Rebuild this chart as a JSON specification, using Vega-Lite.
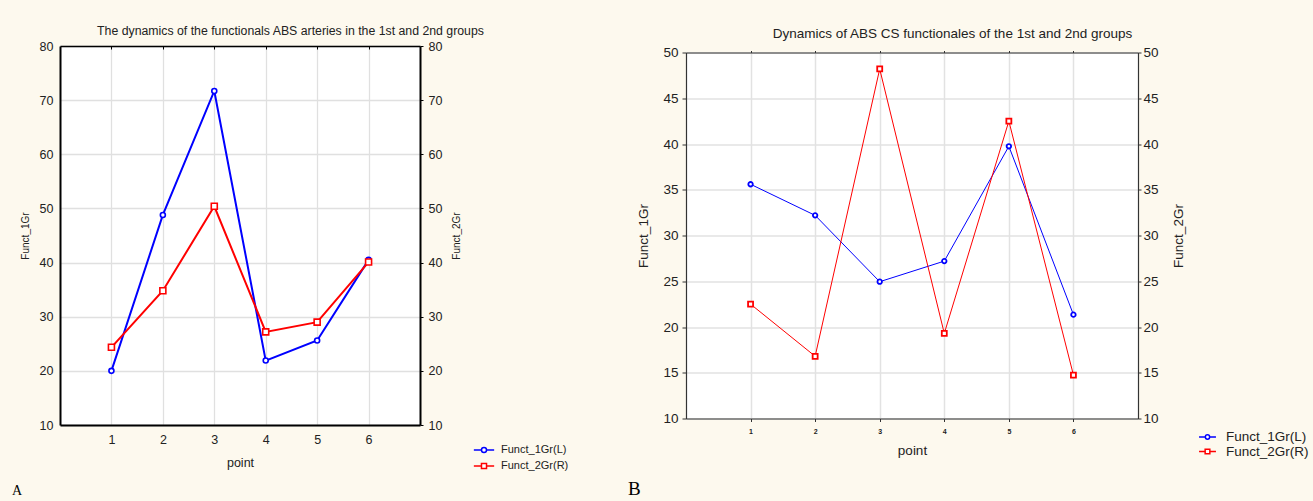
{
  "$schema": "https://vega.github.io/schema/vega-lite/v6.json",
  "background": "#FDF9EE",
  "padding": {"left": 12, "top": 24, "right": 8, "bottom": 4},
  "bounds": "flush",
  "spacing": 266,
  "center": true,
  "datasets": {
    "arteries": [
      {"point": 1, "series": "Funct_1Gr(L)", "value": 20.0},
      {"point": 2, "series": "Funct_1Gr(L)", "value": 48.8},
      {"point": 3, "series": "Funct_1Gr(L)", "value": 71.7},
      {"point": 4, "series": "Funct_1Gr(L)", "value": 21.9},
      {"point": 5, "series": "Funct_1Gr(L)", "value": 25.6},
      {"point": 6, "series": "Funct_1Gr(L)", "value": 40.5},
      {"point": 1, "series": "Funct_2Gr(R)", "value": 24.35},
      {"point": 2, "series": "Funct_2Gr(R)", "value": 34.8},
      {"point": 3, "series": "Funct_2Gr(R)", "value": 50.4},
      {"point": 4, "series": "Funct_2Gr(R)", "value": 27.2},
      {"point": 5, "series": "Funct_2Gr(R)", "value": 29.0},
      {"point": 6, "series": "Funct_2Gr(R)", "value": 40.1}
    ],
    "cs": [
      {"point": 1, "series": "Funct_1Gr(L)", "value": 35.6},
      {"point": 2, "series": "Funct_1Gr(L)", "value": 32.2},
      {"point": 3, "series": "Funct_1Gr(L)", "value": 24.95},
      {"point": 4, "series": "Funct_1Gr(L)", "value": 27.2},
      {"point": 5, "series": "Funct_1Gr(L)", "value": 39.75},
      {"point": 6, "series": "Funct_1Gr(L)", "value": 21.35},
      {"point": 1, "series": "Funct_2Gr(R)", "value": 22.5},
      {"point": 2, "series": "Funct_2Gr(R)", "value": 16.8},
      {"point": 3, "series": "Funct_2Gr(R)", "value": 48.2},
      {"point": 4, "series": "Funct_2Gr(R)", "value": 19.3},
      {"point": 5, "series": "Funct_2Gr(R)", "value": 42.5},
      {"point": 6, "series": "Funct_2Gr(R)", "value": 14.75}
    ]
  },
  "hconcat": [
    {
      "width": 360,
      "height": 379,
      "data": {"name": "arteries"},
      "title": {"text": "A", "orient": "bottom", "anchor": "start", "frame": "group", "dx": -48, "offset": 23, "baseline": "alphabetic", "font": "Liberation Serif", "fontSize": 14, "fontWeight": "normal", "color": "#000000"},
      "view": {"fill": "white", "stroke": null},
      "layer": [
        {
          "transform": [{"filter": "datum.series === 'Funct_1Gr(L)'"}],
          "mark": {"type": "line", "strokeWidth": 2, "point": {"filled": false, "fill": "white", "shape": "circle", "size": 25, "strokeWidth": 1.6}},
          "encoding": {
            "x": {"field": "point", "type": "quantitative", "scale": {"domain": [0, 7], "nice": false, "zero": false},
              "axis": {"orient": "bottom", "values": [1, 2, 3, 4, 5, 6], "format": "d", "title": "point", "grid": true, "gridColor": "#E0E0E0", "gridWidth": 1.3, "domainColor": "#000000", "domainWidth": 2, "ticks": false, "labelFontSize": 12.5, "labelPadding": 8, "titleFontSize": 12.5, "titlePadding": 11}},
            "y": {"field": "value", "type": "quantitative", "scale": {"domain": [10, 80], "nice": false, "zero": false},
              "axis": {"orient": "left", "values": [10, 20, 30, 40, 50, 60, 70, 80], "title": "Funct_1Gr", "grid": true, "gridColor": "#E0E0E0", "gridWidth": 1.3, "domainColor": "#000000", "domainWidth": 2, "ticks": false, "labelFontSize": 12.5, "labelPadding": 7, "titleFontSize": 10, "titlePadding": 9}},
            "color": {"field": "series", "type": "nominal", "scale": {"domain": ["Funct_1Gr(L)", "Funct_2Gr(R)"], "range": ["#0000FF", "#FF0000"]},
              "legend": {"title": null, "orient": "none", "legendX": 416, "legendY": 396, "padding": 0, "symbolSize": 196, "rowPadding": 2, "labelOffset": 9, "labelFontSize": 11, "labelColor": "#222222", "symbolStrokeWidth": 1.5,
                "encode": {"symbols": {"update": {
                  "shape": {"signal": "datum.value === 'Funct_1Gr(L)' ? 'M-1.45,0H-0.36M0.36,0H1.45M0.36,0A0.36,0.36,0,1,1,-0.36,0A0.36,0.36,0,1,1,0.36,0Z' : 'M-1.45,0H-0.36M0.36,0H1.45M-0.36,-0.36H0.36V0.36H-0.36Z'"},
                  "fill": {"value": "white"}}}}}}
          }
        },
        {
          "transform": [{"filter": "datum.series === 'Funct_2Gr(R)'"}],
          "mark": {"type": "line", "strokeWidth": 2, "point": {"filled": false, "fill": "white", "shape": "square", "size": 36, "strokeWidth": 1.6}},
          "encoding": {
            "x": {"field": "point", "type": "quantitative",
              "axis": {"orient": "top", "values": [1, 2, 3, 4, 5, 6], "labels": false, "grid": false, "domainColor": "#000000", "domainWidth": 1.5, "ticks": true, "tickColor": "#000000", "tickSize": -3,
                "title": "The dynamics of the functionals ABS arteries in the 1st and 2nd groups", "titleFontSize": 12.3, "titleX": 230, "titleY": -12, "titleAngle": 0, "titleAlign": "center", "titleBaseline": "alphabetic", "titleAnchor": null}},
            "y": {"field": "value", "type": "quantitative", "scale": {"domain": [10, 80], "nice": false, "zero": false},
              "axis": {"orient": "right", "values": [10, 20, 30, 40, 50, 60, 70, 80], "title": "Funct_2Gr", "grid": false, "domainColor": "#000000", "domainWidth": 2, "ticks": true, "tickColor": "#000000", "tickSize": 3, "labelFontSize": 12.5, "labelPadding": 5, "titleFontSize": 10, "titlePadding": 20, "titleAngle": 270}},
            "color": {"field": "series", "type": "nominal"}
          }
        }
      ],
      "resolve": {"scale": {"y": "independent"}, "axis": {"x": "independent", "y": "independent"}}
    },
    {
      "width": 452,
      "height": 366,
      "data": {"name": "cs"},
      "title": {"text": "B", "orient": "bottom", "anchor": "start", "frame": "group", "dx": -58, "offset": 36, "baseline": "alphabetic", "font": "Liberation Serif", "fontSize": 19, "fontWeight": "normal", "color": "#000000"},
      "view": {"fill": "white", "stroke": null},
      "layer": [
        {
          "transform": [{"filter": "datum.series === 'Funct_1Gr(L)'"}],
          "mark": {"type": "line", "strokeWidth": 1, "point": {"filled": false, "fill": "white", "shape": "circle", "size": 20, "strokeWidth": 1.8}},
          "encoding": {
            "x": {"field": "point", "type": "quantitative", "scale": {"domain": [0, 7], "nice": false, "zero": false},
              "axis": {"orient": "bottom", "values": [1, 2, 3, 4, 5, 6], "format": "d", "title": "point", "grid": true, "gridColor": "#E2E2E2", "gridWidth": 1.5, "domainColor": "#333333", "domainWidth": 1.2, "ticks": true, "tickColor": "#333333", "tickSize": 3, "labelFontSize": 7, "labelFontWeight": "bold", "labelPadding": 6, "titleFontSize": 13.5, "titlePadding": 9}},
            "y": {"field": "value", "type": "quantitative", "scale": {"domain": [10, 50], "nice": false, "zero": false},
              "axis": {"orient": "left", "values": [10, 15, 20, 25, 30, 35, 40, 45, 50], "title": "Funct_1Gr", "grid": true, "gridColor": "#E2E2E2", "gridWidth": 1.5, "domainColor": "#333333", "domainWidth": 1.2, "ticks": true, "tickColor": "#333333", "tickSize": 4, "labelFontSize": 13.5, "labelPadding": 4, "titleFontSize": 13.5, "titlePadding": 12}},
            "color": {"field": "series", "type": "nominal", "scale": {"domain": ["Funct_1Gr(L)", "Funct_2Gr(R)"], "range": ["#0000FF", "#FF0000"]},
              "legend": {"title": null, "orient": "none", "legendX": 514, "legendY": 377, "padding": 0, "symbolSize": 169, "rowPadding": 0.5, "labelOffset": 11, "labelFontSize": 13.5, "labelColor": "#222222", "symbolStrokeWidth": 1.5,
                "encode": {"symbols": {"update": {
                  "shape": {"signal": "datum.value === 'Funct_1Gr(L)' ? 'M-1.3,0H-0.33M0.33,0H1.3M0.33,0A0.33,0.33,0,1,1,-0.33,0A0.33,0.33,0,1,1,0.33,0Z' : 'M-1.3,0H-0.36M0.36,0H1.3M-0.36,-0.36H0.36V0.36H-0.36Z'"},
                  "fill": {"value": "white"}}}}}}
          }
        },
        {
          "transform": [{"filter": "datum.series === 'Funct_2Gr(R)'"}],
          "mark": {"type": "line", "strokeWidth": 1, "point": {"filled": false, "fill": "white", "shape": "square", "size": 25, "strokeWidth": 1.8}},
          "encoding": {
            "x": {"field": "point", "type": "quantitative",
              "axis": {"orient": "top", "values": [1, 2, 3, 4, 5, 6], "labels": false, "grid": false, "domainColor": "#333333", "domainWidth": 1.2, "ticks": true, "tickColor": "#333333", "tickSize": 2,
                "title": "Dynamics of ABS CS functionales of the 1st and 2nd groups", "titleFontSize": 13.5, "titleX": 266, "titleY": -15, "titleAngle": 0, "titleAlign": "center", "titleBaseline": "alphabetic", "titleAnchor": null}},
            "y": {"field": "value", "type": "quantitative", "scale": {"domain": [10, 50], "nice": false, "zero": false},
              "axis": {"orient": "right", "values": [10, 15, 20, 25, 30, 35, 40, 45, 50], "title": "Funct_2Gr", "grid": false, "domainColor": "#333333", "domainWidth": 1.2, "ticks": true, "tickColor": "#333333", "tickSize": 3, "labelFontSize": 13.5, "labelPadding": 2, "titleFontSize": 13.5, "titlePadding": 27, "titleAngle": 270}},
            "color": {"field": "series", "type": "nominal"}
          }
        }
      ],
      "resolve": {"scale": {"y": "independent"}, "axis": {"x": "independent", "y": "independent"}}
    }
  ],
  "resolve": {"scale": {"color": "independent"}, "legend": {"color": "independent"}},
  "config": {
    "font": "Liberation Sans",
    "view": {"stroke": null},
    "axis": {"labelColor": "#222222", "titleColor": "#222222", "titleFontWeight": "normal", "labelFont": "Liberation Sans", "titleFont": "Liberation Sans"},
    "legend": {"labelFont": "Liberation Sans"}
  }
}
